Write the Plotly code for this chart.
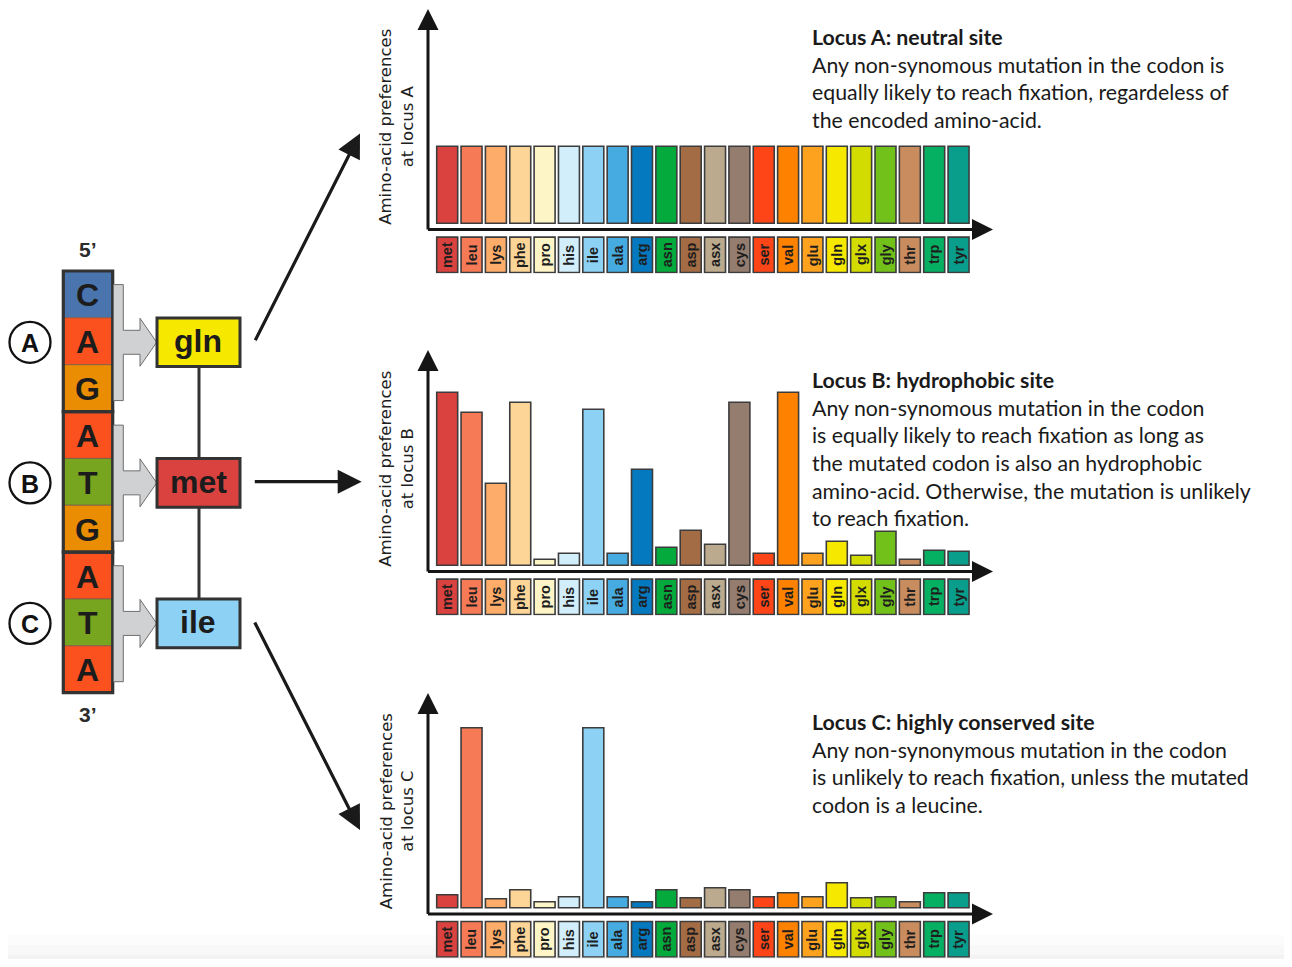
import plotly.graph_objects as go

# ---------------- data ----------------
amino_acids = ["met", "leu", "lys", "phe", "pro", "his", "ile", "ala", "arg", "asn", "asp",
               "asx", "cys", "ser", "val", "glu", "gln", "glx", "gly", "thr", "trp", "tyr"]
aa_colors = ["#d9423e", "#f67a56", "#fdad69", "#fdd597", "#fdf5c6", "#d3eefb", "#8dd2f5",
             "#45abe1", "#0579c0", "#04aa3b", "#a46c44", "#bcaa8e", "#947c6f", "#fe4517",
             "#fe8200", "#fda21f", "#f7e800", "#d2dc00", "#72c11b", "#c88c5f", "#06b063",
             "#099e8b"]
pref_A = [7.7, 7.7, 7.7, 7.7, 7.7, 7.7, 7.7, 7.7, 7.7, 7.7, 7.7,
          7.7, 7.7, 7.7, 7.7, 7.7, 7.7, 7.7, 7.7, 7.7, 7.7, 7.7]
pref_B = [17.3, 15.3, 8.2, 16.3, 0.6, 1.2, 15.6, 1.2, 9.6, 1.8, 3.5,
          2.1, 16.3, 1.2, 17.3, 1.2, 2.4, 1.0, 3.4, 0.6, 1.5, 1.4]
pref_C = [1.3, 18.0, 0.9, 1.8, 0.6, 1.1, 18.0, 1.1, 0.6, 1.8, 1.0,
          2.0, 1.8, 1.1, 1.5, 1.1, 2.5, 1.0, 1.1, 0.6, 1.5, 1.5]
loci = ["A", "B", "C"]
sequence = "CAGATGATA"
encoded = ["gln", "met", "ile"]
nuc_colors = {"C": "#4a74ad", "A": "#fb511f", "G": "#ea8d02", "T": "#78a520"}
locus_texts = [
    "<b>Locus A: neutral site</b><br>Any non-synomous mutation in the codon is<br>"
    "equally likely to reach fixation, regardeless of<br>the encoded amino-acid.",
    "<b>Locus B: hydrophobic site</b><br>Any non-synomous mutation in the codon<br>"
    "is equally likely to reach fixation as long as<br>the mutated codon is also an hydrophobic<br>"
    "amino-acid. Otherwise, the mutation is unlikely<br>to reach fixation.",
    "<b>Locus C: highly conserved site</b><br>Any non-synonymous mutation in the codon<br>"
    "is unlikely to reach fixation, unless the mutated<br>codon is a leucine.",
]

# ---------------- geometry helpers (reference pixel -> paper) ----------------
OX, OY = 8, 8          # page body margin
W, H = 1292 - 2 * OX, 967 - 2 * OY


def px(x):
    return (x - OX) / W


def py(y):
    return 1 - (y - OY) / H


DARK = "#333333"
fig = go.Figure()
shapes = []
ann = []


def label(x, y, text, size, color="#1c1c1c", bold=True, family="Liberation Sans", **kw):
    d = dict(x=px(x), y=py(y), xref="paper", yref="paper", text=text, showarrow=False,
             xanchor="center", yanchor="middle",
             font=dict(family=family, size=size, color=color, weight="bold" if bold else "normal"))
    d.update(kw)
    ann.append(d)


# chart panels
baselines = [223.3, 565.3, 907.7]
tips = [8.3, 350.0, 693.0]
c0, pitch = 447.2, 24.35
AX_L, AX_R = 426.5, 993.0
BAR_W = 0.862
LBL_TOP, LBL_H = 1.38, 3.55   # label boxes below the axis, in axis units (1 unit = 10 px)
prefs = [pref_A, pref_B, pref_C]

for k in range(3):
    sfx = "" if k == 0 else str(k + 1)
    xa, ya = "x" + sfx, "y" + sfx
    base_px, tip_px = baselines[k], tips[k]
    bottom_px = base_px + 50
    fig.add_trace(go.Bar(x=amino_acids, y=prefs[k], width=BAR_W,
                         marker=dict(color=aa_colors, line=dict(color="#3c3c3c", width=1.6)),
                         xaxis=xa, yaxis=ya, showlegend=False, hoverinfo="x+y"))
    fig.add_trace(go.Bar(x=amino_acids, y=[LBL_H] * len(amino_acids),
                         base=[-(LBL_TOP + LBL_H)] * len(amino_acids), width=BAR_W,
                         marker=dict(color=aa_colors, line=dict(color="#3c3c3c", width=1.6)),
                         xaxis=xa, yaxis=ya, showlegend=False, hoverinfo="skip"))
    axis_common = dict(showgrid=False, zeroline=False, showticklabels=False, showline=False,
                       ticks="", fixedrange=True)
    fig.update_layout(**{
        "xaxis" + sfx: dict(domain=[px(AX_L), px(AX_R)], anchor=ya, type="category",
                            categoryorder="array", categoryarray=amino_acids,
                            range=[(AX_L - c0) / pitch, (AX_R - c0) / pitch], **axis_common),
        "yaxis" + sfx: dict(domain=[py(bottom_px), py(tip_px)], anchor=xa,
                            range=[-(bottom_px - base_px) / 10, (base_px - tip_px) / 10],
                            **axis_common),
    })
    for aa in amino_acids:
        ann.append(dict(x=aa, y=-(LBL_TOP + LBL_H / 2), xref=xa, yref=ya, text=aa,
                        textangle=-90, showarrow=False, xanchor="center", yanchor="middle",
                        font=dict(family="Liberation Sans", size=14.5, color="#1e1e1e",
                                  weight="bold")))
    # axes with arrows
    axis_y = base_px + 6.3
    ann.append(dict(x=px(AX_R), y=py(axis_y), xref="paper", yref="paper", text="",
                    showarrow=True, ax=AX_L - AX_R, ay=0, axref="pixel", ayref="pixel",
                    arrowhead=2, arrowsize=1.4, arrowwidth=3, arrowcolor="#151515",
                    standoff=0, startstandoff=0))
    ann.append(dict(x=px(428), y=py(tip_px), xref="paper", yref="paper", text="",
                    showarrow=True, ax=0, ay=axis_y + 1.5 - tip_px, axref="pixel", ayref="pixel",
                    arrowhead=2, arrowsize=1.4, arrowwidth=3, arrowcolor="#151515",
                    standoff=0, startstandoff=0))
    # y-axis title
    label(396.5, base_px - 96, "Amino-acid preferences<br>at locus " + loci[k], 16.5,
          color="#1e1e1e", bold=False, family="DejaVu Sans", textangle=-90)
    # explanatory text
    text_top = [22.0, 364.5, 706.5][k]
    ann.append(dict(x=px(810), y=py(text_top), xref="paper", yref="paper", xanchor="left",
                    yanchor="top", align="left", text=locus_texts[k], showarrow=False,
                    font=dict(family="Lato", size=21.3, color="#1a1a1a")))

# ---------------- DNA diagram ----------------
S_X0, S_X1, S_Y0, S_Y1 = 63.3, 112.7, 271.0, 692.7
cell_h = (S_Y1 - S_Y0) / len(sequence)
for i, nt in enumerate(sequence):
    y0 = S_Y0 + i * cell_h
    shapes.append(dict(type="rect", xref="paper", yref="paper", x0=px(S_X0), x1=px(S_X1),
                       y0=py(y0), y1=py(y0 + cell_h), fillcolor=nuc_colors[nt],
                       line=dict(color="#7a5a4a", width=0.8), layer="above"))
    label((S_X0 + S_X1) / 2, y0 + cell_h / 2 + 1, nt, 32)

for c in range(3):
    y0 = S_Y0 + 3 * c * cell_h
    y1 = y0 + 3 * cell_h
    yc = (y0 + y1) / 2 + 1
    shapes.append(dict(type="rect", xref="paper", yref="paper", x0=px(S_X0), x1=px(S_X1),
                       y0=py(y0), y1=py(y1), line=dict(color=DARK, width=3.2), layer="above"))
    # grey bracket arrow
    t, b = yc - 57.7, yc + 58.3
    pts = [(113.5, t), (123.3, t), (123.3, yc - 12), (140, yc - 12), (140, yc - 24),
           (156.7, yc), (140, yc + 24), (140, yc + 12), (123.3, yc + 12), (123.3, b), (113.5, b)]
    path = "M " + " L ".join("%.5f,%.5f" % (px(a), py(bb)) for a, bb in pts) + " Z"
    shapes.append(dict(type="path", xref="paper", yref="paper", path=path, fillcolor="#d0d1d3",
                       line=dict(color="#6e6e6e", width=1), layer="above"))
    # circled locus letter
    shapes.append(dict(type="circle", xref="paper", yref="paper", x0=px(30 - 20.5), x1=px(30 + 20.5),
                       y0=py(yc - 20.5), y1=py(yc + 20.5), fillcolor="white",
                       line=dict(color="#111111", width=2.3), layer="above"))
    label(30, yc + 1, loci[c], 25, color="#111111")
    # amino-acid box
    col = aa_colors[amino_acids.index(encoded[c])]
    shapes.append(dict(type="rect", xref="paper", yref="paper", x0=px(157), x1=px(240),
                       y0=py(yc - 24.3), y1=py(yc + 24.3), fillcolor=col,
                       line=dict(color=DARK, width=3), layer="above"))
    label(198.5, yc - 1, encoded[c], 32)
    # connector to next box
    if c < 2:
        shapes.append(dict(type="line", xref="paper", yref="paper", x0=px(199), x1=px(199),
                           y0=py(yc + 24.3), y1=py(yc + cell_h * 3 - 24.3),
                           line=dict(color=DARK, width=3), layer="above"))

label(88, 250, "5’", 21, color="#2b2b2b")
label(88, 714, "3’", 21, color="#2b2b2b")

# big arrows from amino acids to panels
big_arrows = [((254.5, 341.7), (360.0, 133.5)), ((253.3, 481.7), (361.7, 481.7)),
              ((254.0, 621.0), (360.0, 830.0))]
for (tx, ty), (hx, hy) in big_arrows:
    ann.append(dict(x=px(hx), y=py(hy), xref="paper", yref="paper", text="", showarrow=True,
                    ax=tx - hx, ay=ty - hy, axref="pixel", ayref="pixel", arrowhead=2,
                    arrowsize=1.5, arrowwidth=3.2, arrowcolor="#1a1a1a", standoff=0,
                    startstandoff=0))

# faint grey band at the bottom
for y0, colr in [(935, "#fcfcfc"), (945, "#f8f8f8"), (955, "#f3f3f3")]:
    shapes.append(dict(type="rect", xref="paper", yref="paper", x0=px(8), x1=px(1284),
                       y0=py(959), y1=py(y0), fillcolor=colr, line=dict(width=0), layer="below"))

fig.update_layout(width=W, height=H, margin=dict(l=0, r=0, t=0, b=0), barmode="overlay",
                  paper_bgcolor="white", plot_bgcolor="rgba(0,0,0,0)", shapes=shapes,
                  annotations=ann, showlegend=False)
fig.write_html("out.html")
